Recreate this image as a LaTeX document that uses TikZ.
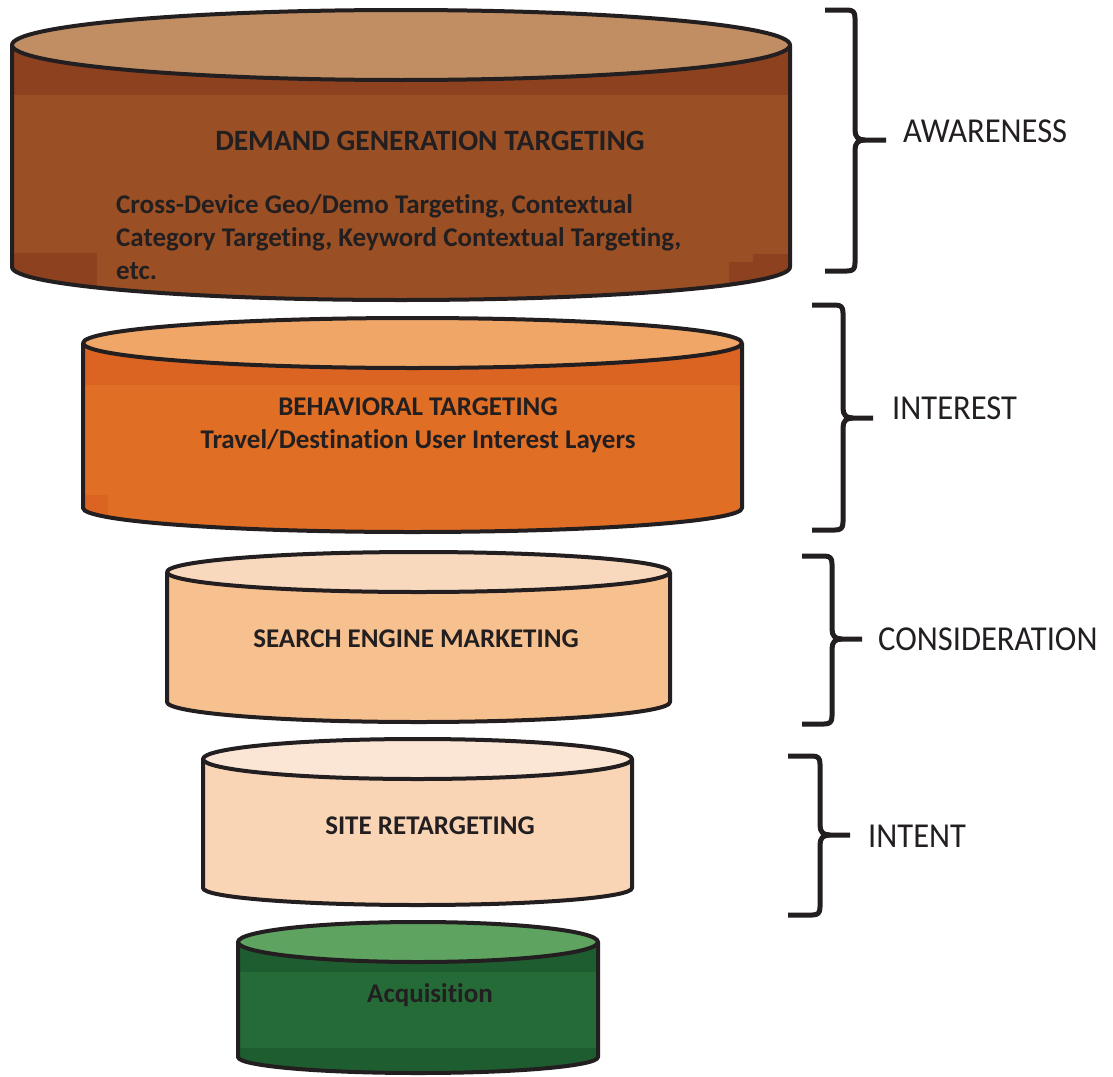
\documentclass[tikz,border=0pt]{standalone}
\usepackage{fontspec}
\newfontfamily\cylfont[Ligatures=NoCommon]{Carlito}
\newfontfamily\stagefont[FakeStretch=0.93]{Carlito}

\definecolor{ink}{HTML}{231F20}
\definecolor{browntop}{HTML}{C08E62}
\definecolor{brownside}{HTML}{9A5024}
\definecolor{brownband}{HTML}{8E411F}
\definecolor{orangetop}{HTML}{EFA667}
\definecolor{orangeside}{HTML}{E06E24}
\definecolor{orangeband}{HTML}{DC6422}
\definecolor{searchtop}{HTML}{F9D9BE}
\definecolor{searchside}{HTML}{F7C08F}
\definecolor{sitetop}{HTML}{FBE5D5}
\definecolor{siteside}{HTML}{F9D5B6}
\definecolor{greentop}{HTML}{5FA361}
\definecolor{greenside}{HTML}{246B37}
\definecolor{greenband}{HTML}{1D5D2F}

% side of a cylinder: centre x, x radius, top y, bottom y, bottom y radius (y counted downwards)
\newcommand\cylsidefill[6]{\fill[#6] (#1-#2,-#3) -- (#1-#2,-#4)
  arc[start angle=180,end angle=360,x radius=#2,y radius=#5] -- (#1+#2,-#3) -- cycle;}
\newcommand\cylsideclip[5]{\clip (#1-#2,-#3) -- (#1-#2,-#4)
  arc[start angle=180,end angle=360,x radius=#2,y radius=#5] -- (#1+#2,-#3) -- cycle;}
\newcommand\cylsidedraw[5]{\draw[outline] (#1-#2,-#3) -- (#1-#2,-#4)
  arc[start angle=180,end angle=360,x radius=#2,y radius=#5] -- (#1+#2,-#3);}
% lid: centre x, x radius, centre y, y radius, colour
\newcommand\cyltop[5]{\draw[outline,fill=#5] (#1,-#3) ellipse[x radius=#2,y radius=#4];}

% curly bracket: name, left x, spine x, tip x, top y, tip y, bottom y
\newcommand\stagebrace[7]{%
  \coordinate (#1) at (#4,-#6);
  \draw[bracket] (#2,-#5) -- (#3-8,-#5) .. controls (#3-2,-#5) and (#3,-#5-2) .. (#3,-#5-8)
    -- (#3,-#6+10) .. controls (#3,-#6+3) and (#3+3,-#6) .. (#3+10,-#6) -- (#1);
  \draw[bracket] (#2,-#7) -- (#3-8,-#7) .. controls (#3-2,-#7) and (#3,-#7+2) .. (#3,-#7+8)
    -- (#3,-#6-10) .. controls (#3,-#6-3) and (#3+3,-#6) .. (#3+10,-#6);}

\begin{document}
\begin{tikzpicture}[x=1pt,y=1pt,
  outline/.style={draw=ink,line width=4pt,line join=round},
  bracket/.style={draw=ink,line width=5pt,line join=round},
  cyltitle/.style={font=\cylfont\bfseries\fontsize{29.5}{35}\selectfont,text=ink,inner sep=0pt,anchor=base},
  cyltext/.style={font=\cylfont\bfseries\fontsize{27}{33}\selectfont,text=ink,inner sep=0pt},
  stage/.style={font=\stagefont\fontsize{35}{40}\selectfont,text=ink,inner sep=0pt,anchor=base west}]

\fill[white] (0,0) rectangle (1113,-1076);
\useasboundingbox (0,0) rectangle (1113,-1076);

% --- demand generation layer
\cylsidefill{401}{389}{45}{267}{33}{brownside}
\begin{scope}
  \cylsideclip{401}{389}{45}{267}{33}
  \fill[brownband] (0,-45) rectangle (800,-95);
  \fill[brownband] (0,-253) rectangle (97,-310);
  \fill[brownband] (729,-262) rectangle (800,-310);
  \fill[brownband] (753,-254) rectangle (800,-262);
\end{scope}
\cylsidedraw{401}{389}{45}{267}{33}
\cyltop{401}{389}{45}{35}{browntop}
\node[cyltitle] (demand) at (430,-150) {DEMAND GENERATION TARGETING};
\node[cyltext,anchor=base west] (demandtext) at (116,-213)
  {\begin{tabular}[t]{@{}l@{}}Cross-Device Geo/Demo Targeting, Contextual\\
   Category Targeting, Keyword Contextual Targeting,\\ etc.\end{tabular}};

% --- behavioural layer
\cylsidefill{412.5}{329.5}{343}{508}{24}{orangeside}
\begin{scope}
  \cylsideclip{412.5}{329.5}{343}{508}{24}
  \fill[orangeband] (70,-343) rectangle (760,-385);
  \fill[orangeband] (70,-495) rectangle (108,-540);
\end{scope}
\cylsidedraw{412.5}{329.5}{343}{508}{24}
\cyltop{412.5}{329.5}{343}{25}{orangetop}
\node[cyltext,anchor=base] (behavioral) at (418,-415)
  {\begin{tabular}[t]{@{}c@{}}BEHAVIORAL TARGETING\\ Travel/Destination User Interest Layers\end{tabular}};

% --- search layer
\cylsidefill{418.5}{251.5}{572}{702}{20}{searchside}
\cylsidedraw{418.5}{251.5}{572}{702}{20}
\cyltop{418.5}{251.5}{572}{20}{searchtop}
\node[cyltext,anchor=base] (search) at (416,-647) {SEARCH ENGINE MARKETING};

% --- retargeting layer
\cylsidefill{417.5}{214.5}{759}{888}{17}{siteside}
\cylsidedraw{417.5}{214.5}{759}{888}{17}
\cyltop{417.5}{214.5}{759}{20}{sitetop}
\node[cyltext,anchor=base] (site) at (430,-834) {SITE RETARGETING};

% --- acquisition layer
\cylsidefill{418}{180}{942}{1057}{16}{greenside}
\begin{scope}
  \cylsideclip{418}{180}{942}{1057}{16}
  \fill[greenband] (230,-942) rectangle (610,-972);
  \fill[greenband] (230,-1048) rectangle (610,-1080);
\end{scope}
\cylsidedraw{418}{180}{942}{1057}{16}
\cyltop{418}{180}{942}{20}{greentop}
\node[cyltext,anchor=base] (acquisition) at (430,-1002) {Acquisition};

% --- stage brackets and their labels
\stagebrace{awtip}{825}{855}{886}{10}{140}{271}
\stagebrace{intip}{812}{843}{873}{305}{418}{530}
\stagebrace{cotip}{802}{832}{862}{556}{639}{724}
\stagebrace{ittip}{788}{820}{850}{756}{835}{915}

\node[stage] (awareness) at (903,-142) {AWARENESS};
\node[stage] (interest) at (892,-419) {INTEREST};
\node[stage] (consideration) at (878,-650) {CONSIDERATION};
\node[stage] (intent) at (868,-847) {INTENT};
\end{tikzpicture}
\end{document}
